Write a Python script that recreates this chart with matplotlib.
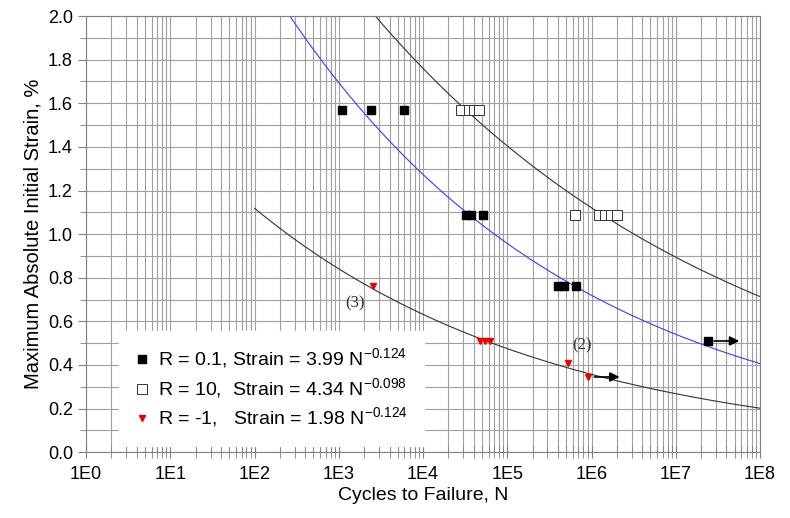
"""Strain-life fatigue chart"""

import numpy as np
import matplotlib
matplotlib.use("Agg")
import matplotlib.pyplot as plt
from matplotlib.ticker import FixedLocator, FuncFormatter, MultipleLocator, NullFormatter

plt.rcParams["font.family"] = ["Liberation Sans", "DejaVu Sans"]

# R = 0.1 (filled squares)
r01_n = [1090, 2400, 5900, 32500, 37000, 51700, 400000, 472000, 654000]
r01_strain = [1.57, 1.57, 1.57, 1.09, 1.09, 1.09, 0.76, 0.76, 0.76]
r01_runout_n = [2.4e7]
r01_runout_strain = [0.51]

# R = 10 (open squares)
r10_n = [28200, 35200, 40300, 46200, 637000, 1.23e6, 1.45e6, 1.70e6, 2.0e6]
r10_strain = [1.57, 1.57, 1.57, 1.57, 1.09, 1.09, 1.09, 1.09, 1.09]

# R = -1 (red triangles)
rm1_n = [2550, 47500, 54500, 62400, 526000]
rm1_strain = [0.76, 0.51, 0.51, 0.51, 0.41]
rm1_runout_n = [9.1e5]
rm1_runout_strain = [0.345]

# fits: strain = A * N^b
fit_r01 = (3.99, -0.124)
fit_r10 = (4.34, -0.098)
fit_rm1 = (1.98, -0.124)

decades = list(range(0, 9))
labels = [
    r"R = 0.1, Strain = 3.99 N$^{\mathregular{-0.124}}$",
    r"R = 10,  Strain = 4.34 N$^{\mathregular{-0.098}}$",
    r"R = -1,   Strain = 1.98 N$^{\mathregular{-0.124}}$",
]

fig = plt.figure(figsize=(7.9, 5.18), dpi=100)
ax = fig.add_axes([0.109, 0.127, 0.853, 0.842])
ax.set_xscale("log")
ax.set_xlim(1, 1e8)
ax.set_ylim(0, 2.0)

# fit curves
n_fit = np.logspace(2, 8, 400)
ax.plot(n_fit, fit_r01[0] * n_fit ** fit_r01[1], color="#3a3aff", lw=0.8, zorder=2)
ax.plot(n_fit, fit_r10[0] * n_fit ** fit_r10[1], color="#333333", lw=0.8, zorder=2)
ax.plot(n_fit, fit_rm1[0] * n_fit ** fit_rm1[1], color="#333333", lw=0.8, zorder=2)

# data
ax.plot(r01_n + r01_runout_n, r01_strain + r01_runout_strain, "s", color="black",
        ms=5.5, ls="none", label=labels[0], zorder=4)
ax.plot(r10_n, r10_strain, "s", mfc="white", mec="#333333", mew=0.7,
        ms=6.5, ls="none", label=labels[1], zorder=4)
ax.plot(rm1_n + rm1_runout_n, rm1_strain + rm1_runout_strain, "v", color="#ee0000",
        ms=5, ls="none", label=labels[2], zorder=4)

# runout arrows
for n, s in zip(r01_runout_n + rm1_runout_n, r01_runout_strain + rm1_runout_strain):
    ax.annotate("", xy=(n * 2.55, s), xytext=(n * 1.1, s),
                arrowprops=dict(arrowstyle="-|>", color="black", lw=1.2,
                                mutation_scale=14), zorder=5)

ax.text(10 ** 3.19, 0.683, "(3)", family="Liberation Serif", fontsize=12,
        ha="center", va="center", color="#333333")
ax.text(10 ** 5.89, 0.49, "(2)", family="Liberation Serif", fontsize=12,
        ha="center", va="center", color="#333333")

# grid and ticks
major_x = [10.0 ** d for d in decades]
minor_x = [m * 10.0 ** d for d in decades[:-1] for m in range(2, 10)]
ax.xaxis.set_major_locator(FixedLocator(major_x))
ax.xaxis.set_minor_locator(FixedLocator(minor_x))
ax.xaxis.set_major_formatter(FuncFormatter(lambda v, p: f"1E{int(round(np.log10(v)))}"))
ax.xaxis.set_minor_formatter(NullFormatter())
ax.yaxis.set_major_locator(MultipleLocator(0.2))
ax.yaxis.set_minor_locator(MultipleLocator(0.1))
ax.yaxis.set_major_formatter(FuncFormatter(lambda v, p: f"{v:.1f}"))
ax.grid(True, which="both", color="#a0a0a0", lw=0.8)
ax.set_axisbelow(True)
ax.tick_params(axis="both", which="both", color="#808080", labelsize=13)
ax.tick_params(axis="x", which="both", direction="inout", length=8, pad=6)
ax.tick_params(axis="y", which="major", direction="out", length=6)
ax.tick_params(axis="y", which="minor", direction="out", length=4)
for sp in ax.spines.values():
    sp.set_color("#808080")

ax.set_xlabel("Cycles to Failure, N", fontsize=14, labelpad=3)
ax.set_ylabel("Maximum Absolute Initial Strain, %", fontsize=14.5, labelpad=4)

leg = ax.legend(loc="upper left", bbox_to_anchor=(0.035, 0.30), fontsize=14,
                frameon=True, fancybox=False, framealpha=1, facecolor="white",
                edgecolor="white", handlelength=0.7, handletextpad=0.5,
                labelspacing=0.25, borderpad=0.8)
leg.set_zorder(6)

fig.savefig("out.png", dpi=100)
